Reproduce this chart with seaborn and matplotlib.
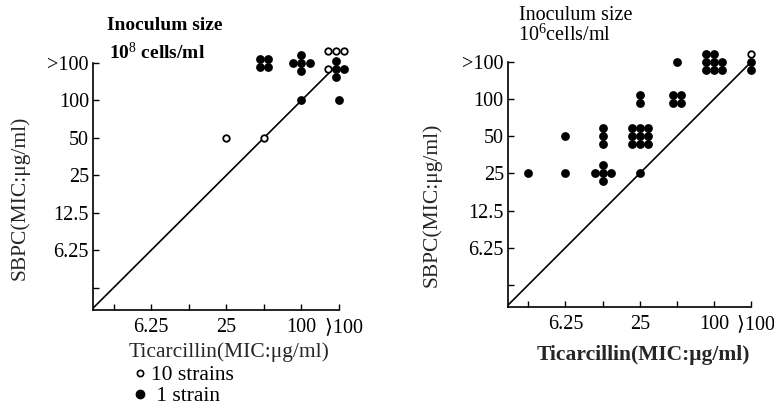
import matplotlib
matplotlib.use("Agg")
import matplotlib.pyplot as plt
from matplotlib.lines import Line2D
import seaborn as sns
import pandas as pd

# ---------------- data ----------------
MIC_CATS = ["3.125", "6.25", "12.5", "25", "50", "100", ">100"]
X_TICK_LABELS = ["", "6.25", "", "25", "", "100", "  \u27e9100"]
Y_TICK_LABELS = ["", "6.25", "12.5", "25", "50", "100", ">100"]

# Left panel: inoculum 10^8 cells/ml
LEFT_TIC  = ["25", "50", "50",   "100", "100",  ">100", ">100"]
LEFT_SBPC = ["50", "50", ">100", "100", ">100", ">100", "100"]
LEFT_N1   = [0,    0,    4,      1,     5,      4,      1]    # filled dots, 1 strain each
LEFT_N10  = [1,    1,    0,      0,     0,      4,      0]    # open circles, 10 strains each
LEFT_SHAPE = ["dot", "dot", "square", "dot", "plus", "crown", "dot"]

# Right panel: inoculum 10^6 cells/ml
RIGHT_TIC  = ["3.125", "6.25", "6.25", "12.5", "12.5", "25",  "25", "25", "50",   "50",  "100",  ">100"]
RIGHT_SBPC = ["25",    "50",   "25",   "50",   "25",   "100", "50", "25", ">100", "100", ">100", ">100"]
RIGHT_N1   = [1,       1,      1,      3,      5,      2,     9,    1,    1,      4,     8,      2]
RIGHT_N10  = [0,       0,      0,      0,      0,      0,     0,    0,    0,      0,     0,      1]
RIGHT_SHAPE = ["dot", "dot", "dot", "col3", "plus", "col2", "grid9", "dot", "dot", "square", "grid8", "col3"]

# ---------------- cluster layouts (slot offsets, in marker spacings) ----------------
PATTERNS = {
    "dot":    [(0, 0)],
    "col2":   [(0, 0.5), (0, -0.5)],
    "col3":   [(0, 1), (0, 0), (0, -1)],
    "square": [(-0.5, 0.5), (0.5, 0.5), (-0.5, -0.5), (0.5, -0.5)],
    "plus":   [(0, 1), (-1, 0), (0, 0), (1, 0), (0, -1)],
    "grid8":  [(-1, 1), (0, 1), (-1, 0), (0, 0), (1, 0), (-1, -1), (0, -1), (1, -1)],
    "grid9":  [(dx, dy) for dy in (1, 0, -1) for dx in (-1, 0, 1)],
    # open circles first (row on top + left of plus), then filled plus
    "crown":  [(-1.35, 1.5), (-0.35, 1.5), (0.65, 1.5), (-1.35, -0.75),
               (-0.35, 0.25), (-0.35, -0.75), (0.65, -0.75), (-0.35, -1.75)],
}
SPACING = 0.215


def build(tic, sbpc, n1, n10, shapes):
    rows = []
    for t, s, a, b, shp in zip(tic, sbpc, n1, n10, shapes):
        slots = PATTERNS[shp]
        kinds = ["10 strains"] * b + ["1 strain"] * a
        xi, yi = MIC_CATS.index(t), MIC_CATS.index(s)
        for (dx, dy), k in zip(slots, kinds):
            rows.append({"x": xi + dx * SPACING, "y": yi + dy * SPACING, "kind": k})
    return pd.DataFrame(rows)


left_df = build(LEFT_TIC, LEFT_SBPC, LEFT_N1, LEFT_N10, LEFT_SHAPE)
right_df = build(RIGHT_TIC, RIGHT_SBPC, RIGHT_N1, RIGHT_N10, RIGHT_SHAPE)

# ---------------- style ----------------
sns.set_style("ticks")
plt.rcParams["font.family"] = ["Liberation Serif", "DejaVu Sans", "Noto Sans CJK JP"]
plt.rcParams["mathtext.fontset"] = "custom"
plt.rcParams["mathtext.rm"] = "Liberation Serif"
plt.rcParams["mathtext.it"] = "Liberation Serif:italic"
plt.rcParams["mathtext.bf"] = "Liberation Serif:bold"
plt.rcParams["text.color"] = "black"

fig = plt.figure(figsize=(7.74, 4.11), dpi=100)
ax_l = fig.add_axes([0.1202, 0.2457, 0.3178, 0.601])
ax_r = fig.add_axes([0.6563, 0.2530, 0.3140, 0.596])


def draw(ax, df, xlab_pos, ylab_pos, xbold):
    filled = df[df["kind"] == "1 strain"]
    opened = df[df["kind"] == "10 strains"]
    ax.axline((6, 6), slope=1, color="black", lw=1.2, zorder=1)
    if len(filled):
        sns.scatterplot(data=filled, x="x", y="y", ax=ax, color="black", s=40,
                        linewidth=0, marker="o", clip_on=False, legend=False, zorder=3)
    if len(opened):
        sns.scatterplot(data=opened, x="x", y="y", ax=ax, color="white", edgecolor="black",
                        s=22, linewidth=1.3, marker="o", clip_on=False, legend=False, zorder=4)
    ax.set_xlim(-0.55, 6)
    ax.set_ylim(-0.6, 6)
    ax.set_xticks(range(7))
    ax.set_xticklabels(X_TICK_LABELS)
    ax.set_yticks(range(7))
    ax.set_yticklabels(Y_TICK_LABELS)
    ax.tick_params(axis="both", direction="in", length=4, width=1, colors="black",
                   labelsize=14.5)
    ax.tick_params(axis="x", pad=6)
    ax.tick_params(axis="y", pad=3)
    for sp in ("top", "right"):
        ax.spines[sp].set_visible(False)
    for sp in ("left", "bottom"):
        ax.spines[sp].set_color("black")
        ax.spines[sp].set_linewidth(1.2)
    ax.set_xlabel("Ticarcillin(MIC:\u03bcg/ml)", fontsize=15.5,
                  fontweight="bold" if xbold else "normal")
    ax.set_ylabel("SBPC(MIC:\u03bcg/ml)", fontsize=15.5)
    ax.xaxis.set_label_coords(*xlab_pos)
    ax.yaxis.set_label_coords(*ylab_pos)
    ax.xaxis.label.set_va("center")
    ax.yaxis.label.set_va("center")


draw(ax_l, left_df, (0.553, -0.17), (-0.297, 0.453), False)
draw(ax_r, right_df, (0.556, -0.196), (-0.313, 0.416), True)

# titles
fig.text(0.138, 1 - 25 / 411, "Inoculum size", fontsize=14, fontweight="bold", va="center", ha="left")
fig.text(0.141, 1 - 52 / 411, "10$^{8}$ cells/ml", fontsize=14, fontweight="bold", va="center", ha="left")
fig.text(0.671, 1 - 16 / 411, "Inoculum size", fontsize=14.5, va="center", ha="left")
fig.text(0.669, 1 - 35 / 411, "10$^{6}$cells/ml", fontsize=14.5, va="center", ha="left")

# legend
handles = [
    Line2D([], [], linestyle="none", marker="o", markersize=4.5, markerfacecolor="white",
           markeredgecolor="black", markeredgewidth=1.2),
    Line2D([], [], linestyle="none", marker="o", markersize=6, markerfacecolor="black",
           markeredgecolor="black"),
]
fig.legend(handles, ["10 strains", " 1 strain"], loc="upper left",
           bbox_to_anchor=(118 / 774, 1 - 350 / 411), frameon=False, fontsize=15.5,
           handlelength=0.6, handletextpad=0.25, labelspacing=0.05, borderpad=0.2)

fig.savefig("out.png", dpi=100)
